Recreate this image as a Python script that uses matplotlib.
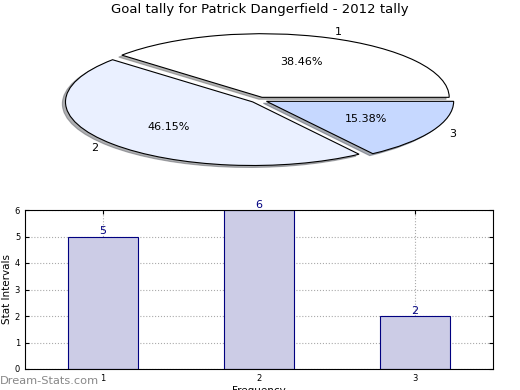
import matplotlib
matplotlib.use("Agg")
import matplotlib.pyplot as plt

categories = ["1", "2", "3"]
values = [5, 6, 2]
pie_colors = ["#ffffff", "#eaf0ff", "#c6d8ff"]
title = "Goal tally for Patrick Dangerfield - 2012 tally"

fig = plt.figure(figsize=(5.2, 3.9), dpi=100)

# Pie
axp = fig.add_axes([25/520, 210.5/390, 468/520, 159/390])
wedges, texts, autotexts = axp.pie(values, labels=categories, colors=pie_colors,
                                   autopct="%.2f%%", explode=[0.045]*3,
                                   shadow={"ox": -0.012, "oy": -0.022, "shade": 0.6},
                                   startangle=0, textprops={"fontsize": 8},
                                   wedgeprops={"edgecolor": "black", "linewidth": 0.8})
axp.set_aspect("auto")
axp.set_xlim(-1.25, 1.25)
axp.set_ylim(-1.25, 1.25)
fig.text(0.5, 1 - 10/390, title, ha="center", va="center", fontsize=9.5)

# Bars
axb = fig.add_axes([25/520, 21/390, 468/520, 159/390])
x = [1, 2, 3]
axb.bar(x, values, width=0.45, color="#ccccE6", edgecolor="#000080", linewidth=0.8, zorder=2)
for xi, v in zip(x, values):
    axb.text(xi, v, str(v), ha="center", va="bottom", color="#000080", fontsize=8)
axb.set_xlim(0.5, 3.5)
axb.set_ylim(0, 6)
axb.set_xticks(x)
axb.set_xticklabels(categories)
axb.set_yticks(range(0, 7))
axb.tick_params(labelsize=6, direction="in", length=3, top=True, right=True)
axb.grid(True, linestyle=":", color="#aaaaaa", linewidth=0.8, zorder=0)
axb.set_axisbelow(True)
axb.set_ylabel("Stat Intervals", fontsize=7.5, labelpad=2)
axb.set_xlabel("Frequency", fontsize=7.5, labelpad=2)

fig.text(0.0, 9/390, "Dream-Stats.com", ha="left", va="center", fontsize=8.2, color="#888888")

fig.savefig("out.png", dpi=100)
